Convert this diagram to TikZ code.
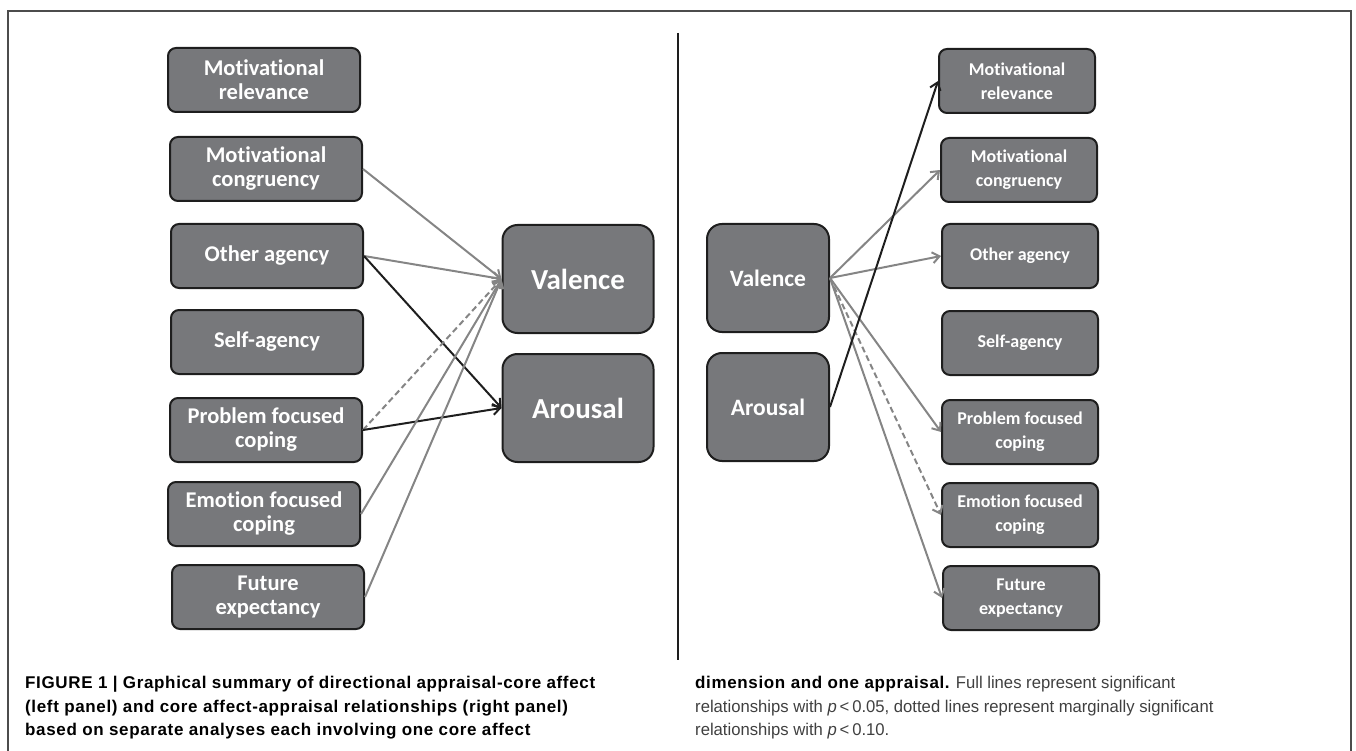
\documentclass[tikz,border=0pt]{standalone}
\usepackage{fontspec}
\setmainfont[Ligatures=NoCommon]{Carlito}
\newfontfamily\capfont[FakeStretch=0.98, BoldFeatures={FakeStretch=1, LetterSpace=3.8}]{Liberation Sans}
\usetikzlibrary{arrows.meta}
\definecolor{boxgray}{HTML}{77787B}
\definecolor{linegray}{HTML}{858585}
\definecolor{edgedark}{HTML}{1E1E1E}

\begin{document}
\begin{tikzpicture}[x=1pt,y=-1pt,
        appr/.style={draw=edgedark, line width=2pt, fill=boxgray, rounded corners=8pt,
            minimum width=192pt, minimum height=64pt, inner sep=0pt, align=center,
            text=white, font=\bfseries\fontsize{22.5}{24}\selectfont},
        apprR/.style={appr, minimum width=156pt, font=\bfseries\fontsize{18}{24}\selectfont},
        core/.style={appr, rounded corners=15pt, minimum width=151pt, minimum height=108pt,
            font=\bfseries\fontsize{29}{30}\selectfont},
        coreR/.style={core, minimum width=122pt, font=\bfseries\fontsize{23.5}{26}\selectfont},
        sig/.style={-{Straight Barb[length=7pt,width=11pt]}, line width=2pt},
        ns/.style={sig, dash pattern=on 6pt off 3.5pt},
        caption/.style={anchor=north west, align=left, inner sep=0pt,
            font=\capfont\fontsize{17}{23.5}\selectfont}
    ]
    \useasboundingbox (0,0) rectangle (1356,751);
    % frame and divider
    \draw[black!70, line width=1.2pt] (8,751) -- (8,11) -- (1351,11) -- (1351,751);
    \draw[edgedark, line width=1.8pt] (678,33) -- (678,660);

    % left panel: appraisal -> core affect
    \node[appr](MR)  at (264,80)  {Motivational\\relevance};
    \node[appr](MC)  at (266,169) {Motivational\\congruency};
    \node[appr](OA)  at (267,256) {Other agency};
    \node[appr](SA)  at (267,342) {Self-agency};
    \node[appr](PFC) at (266,430) {Problem focused\\coping};
    \node[appr](EFC) at (264,514) {Emotion focused\\coping};
    \node[appr](FE)  at (268,597) {Future\\expectancy};
    \node[core](V)   at (578,279) {Valence};
    \node[core](A)   at (578,408) {Arousal};
    \path
        (MC.east)  edge [sig, linegray] (V.west)
        (OA.east)  edge [sig, linegray] (V.west)
                   edge [sig, edgedark] (A.west)
        (PFC.east) edge [ns, linegray]  (V.west)
                   edge [sig, edgedark] (A.west)
        (EFC.east) edge [sig, linegray] (V.west)
        (FE.east)  edge [sig, linegray] (V.west)
        ;

    % right panel: core affect -> appraisal
    \node[coreR](V2)   at (768,278)  {Valence};
    \node[coreR](A2)   at (768,407)  {Arousal};
    \node[apprR](MR2)  at (1017,81)  {Motivational\\relevance};
    \node[apprR](MC2)  at (1019,170) {Motivational\\congruency};
    \node[apprR](OA2)  at (1020,256) {Other agency};
    \node[apprR](SA2)  at (1020,343) {Self-agency};
    \node[apprR](PFC2) at (1020,432) {Problem focused\\coping};
    \node[apprR](EFC2) at (1020,515) {Emotion focused\\coping};
    \node[apprR](FE2)  at (1021,598) {Future\\expectancy};
    \path
        (V2.east) edge [sig, linegray] (MC2.west)
                  edge [sig, linegray] (OA2.west)
                  edge [sig, linegray] (PFC2.west)
                  edge [ns, linegray]  (EFC2.west)
                  edge [sig, linegray] (FE2.west)
        (A2.east) edge [sig, edgedark] (MR2.west)
        ;

    % caption
    \node[caption, font=\capfont\bfseries\fontsize{17}{23.5}\selectfont](capL) at (25,676)
        {FIGURE 1 | Graphical summary of directional appraisal-core affect\\
         (left panel) and core affect-appraisal relationships (right panel)\\
         based on separate analyses each involving one core affect};
    \node[caption, text=black!75](capR) at (695,676)
        {\textcolor{black}{\bfseries dimension and one appraisal.} Full lines represent significant\\
         relationships with \textit{p}\,<\,0.05, dotted lines represent marginally significant\\
         relationships with \textit{p}\,<\,0.10.};
\end{tikzpicture}
\end{document}
